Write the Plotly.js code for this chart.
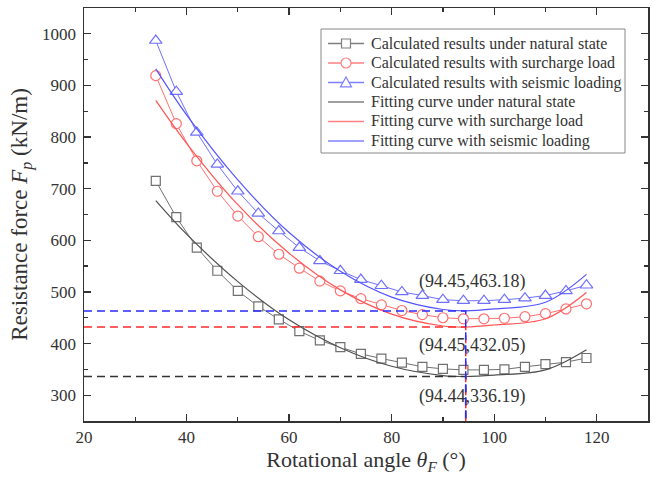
<!DOCTYPE html>
<html><head><meta charset="utf-8">
<script src="https://cdn.plot.ly/plotly-3.0.1.min.js"></script>
<style>html,body{margin:0;padding:0;background:#fff}#chart{width:655px;height:481px}</style>
</head><body><div id="chart"></div>
<script>
// Calculated results (rotational angle, degrees)
const angles = [34,38,42,46,50,54,58,62,66,70,74,78,82,86,90,94,98,102,106,110,114,118];
const natural = [715,645,586,541,502,472,447,424,406,393,380,371,363,355,351,349,349,350,355,360,364,372];
const surcharge = [919,826,754,695,647,607,573,546,521,502,487,475,464,456,450,448,448,449,452,458,467,477];
const seismic = [987,888,809,747,695,652,618,586,560,541,524,512,500,493,485,483,483,485,488,493,502,513];

// Fitting curves
const fitAngles = [34,40,50,60,70,80,90,94.45,100,110,118];
const fitNatural = [677,612,520,446,392,356,338,336.19,339,349,388];
const fitSurcharge = [871,788,669,575,504,457,434,432.05,436,448,499];
const fitSeismic = [932,843,717,615,540,490,466,463.18,467,480,534];

// Minimum points
const minX = [94.44,94.45,94.45];
const minY = [336.19,432.05,463.18];
const minLabels = ['(94.44,336.19)','(94.45,432.05)','(94.45,463.18)'];

const legendNames = [
  'Calculated results under natural state',
  'Calculated results with surcharge load',
  'Calculated results with seismic loading',
  'Fitting curve under natural state',
  'Fitting curve with surcharge load',
  'Fitting curve with seismic loading'
];

const serif = 'Liberation Serif, Times New Roman, serif';
const dataColors = ['#707070','#ff7070','#7070ff'];
const fitColors = ['#505050','#ff5555','#5555ff'];
const legendColors = ['#808080','#ff8080','#8080ff','#808080','#ff8080','#8080ff'];
const guideColors = ['#333333','#ff2a2a','#2a2aff'];
const symbols = ['square','circle','triangle-up'];
const symSizes = [9, 10, 11];

// Plot geometry (pixels) used for the drawn legend box
const W = 655, H = 481, ML = 84, MR = 7, MT = 8, MB = 60;
const PW = W - ML - MR, PH = H - MT - MB;
const X = p => (p - ML) / PW;
const Y = p => (H - MB - p) / PH;

const traces = [];
[natural, surcharge, seismic].forEach((ys, i) => {
  traces.push({
    x: angles, y: ys, type: 'scatter', mode: 'lines+markers', name: legendNames[i], showlegend: false,
    line: {color: dataColors[i], width: 1},
    marker: {symbol: symbols[i], size: symSizes[i], color: '#ffffff', line: {color: dataColors[i], width: 1.2}}
  });
});
[fitNatural, fitSurcharge, fitSeismic].forEach((ys, i) => {
  traces.push({
    x: fitAngles, y: ys, type: 'scatter', mode: 'lines', name: legendNames[3 + i], showlegend: false,
    line: {color: fitColors[i], width: 1.2, shape: 'spline', smoothing: 1.0}
  });
});
// Guide dashed lines from the minima
const xStart = 20, yBottom = 250;
minX.forEach((mx, i) => {
  traces.push({
    x: [xStart, mx, mx], y: [minY[i], minY[i], yBottom], type: 'scatter', mode: 'lines',
    showlegend: false, hoverinfo: 'skip',
    line: {color: guideColors[i], width: 1.5, dash: '8px,5px'}
  });
});

const annShiftY = [-19.5, -18, 29];
const annotations = minX.map((mx, i) => ({
  x: mx, y: minY[i], text: minLabels[i], showarrow: false, xref: 'x', yref: 'y',
  yshift: annShiftY[i], xshift: 7,
  font: {family: serif, size: 18, color: '#333'}
}));

// Drawn legend (box, samples, labels)
const shapes = [];
shapes.push({type: 'rect', xref: 'paper', yref: 'paper', x0: X(321), x1: X(625), y0: Y(29), y1: Y(153),
  line: {color: '#888', width: 1}, fillcolor: '#fff', layer: 'above'});
const rowY0 = 43.5, rowStep = 19.5, sx0 = 328, sx1 = 364, sxm = 346, tx = 369;
legendNames.forEach((name, i) => {
  const py = rowY0 + i * rowStep;
  const k = i % 3;
  const isData = i < 3;
  const col = legendColors[i];
  shapes.push({type: 'line', xref: 'paper', yref: 'paper', x0: X(sx0), x1: X(sx1), y0: Y(py), y1: Y(py),
    line: {color: col, width: 1.4}, layer: 'above'});
  if (isData) {
    const r = symSizes[k] / 2;
    const base = {xref: 'paper', yref: 'paper', line: {color: col, width: 1.2}, fillcolor: '#fff', layer: 'above'};
    if (k === 0) shapes.push(Object.assign({type: 'rect', x0: X(sxm - r), x1: X(sxm + r), y0: Y(py + r), y1: Y(py - r)}, base));
    if (k === 1) shapes.push(Object.assign({type: 'circle', x0: X(sxm - r), x1: X(sxm + r), y0: Y(py + r), y1: Y(py - r)}, base));
    if (k === 2) shapes.push(Object.assign({type: 'path',
      path: `M ${X(sxm - r)} ${Y(py + r * 0.8)} L ${X(sxm + r)} ${Y(py + r * 0.8)} L ${X(sxm)} ${Y(py - r)} Z`}, base));
  }
  annotations.push({xref: 'paper', yref: 'paper', x: X(tx), y: Y(py), xanchor: 'left', yanchor: 'middle',
    text: name, showarrow: false, font: {family: serif, size: 16, color: '#333'}});
});

const axisCommon = {
  showgrid: false, zeroline: false, showline: true, linecolor: '#333', linewidth: 1.5,
  mirror: 'ticks', ticks: 'inside', ticklen: 7, tickwidth: 1.3, tickcolor: '#333',
  tickfont: {family: serif, size: 17, color: '#333'}
};

const layout = {
  width: W, height: H,
  margin: {l: ML, r: MR, t: MT, b: MB},
  paper_bgcolor: '#fff', plot_bgcolor: '#fff',
  showlegend: false,
  xaxis: Object.assign({}, axisCommon, {
    range: [20, 130], tickmode: 'array', tickvals: [20,40,60,80,100,120],
    minor: {dtick: 10, ticks: 'inside', ticklen: 4, tickcolor: '#333'},
    title: {text: 'Rotational angle <i>θ</i><sub><i>F</i></sub> (°)', font: {family: serif, size: 22, color: '#333'}, standoff: 5}
  }),
  yaxis: Object.assign({}, axisCommon, {
    range: [250, 1050], tickmode: 'array', tickvals: [300,400,500,600,700,800,900,1000],
    ticklabelstandoff: 3,
    minor: {dtick: 50, ticks: 'inside', ticklen: 4, tickcolor: '#333'},
    title: {text: 'Resistance force <i>F</i><sub><i>p</i></sub> (kN/m)', font: {family: serif, size: 23, color: '#333'}, standoff: 8}
  }),
  shapes: shapes,
  annotations: annotations
};

Plotly.newPlot('chart', traces, layout, {displayModeBar: false, staticPlot: true});
</script></body></html>
